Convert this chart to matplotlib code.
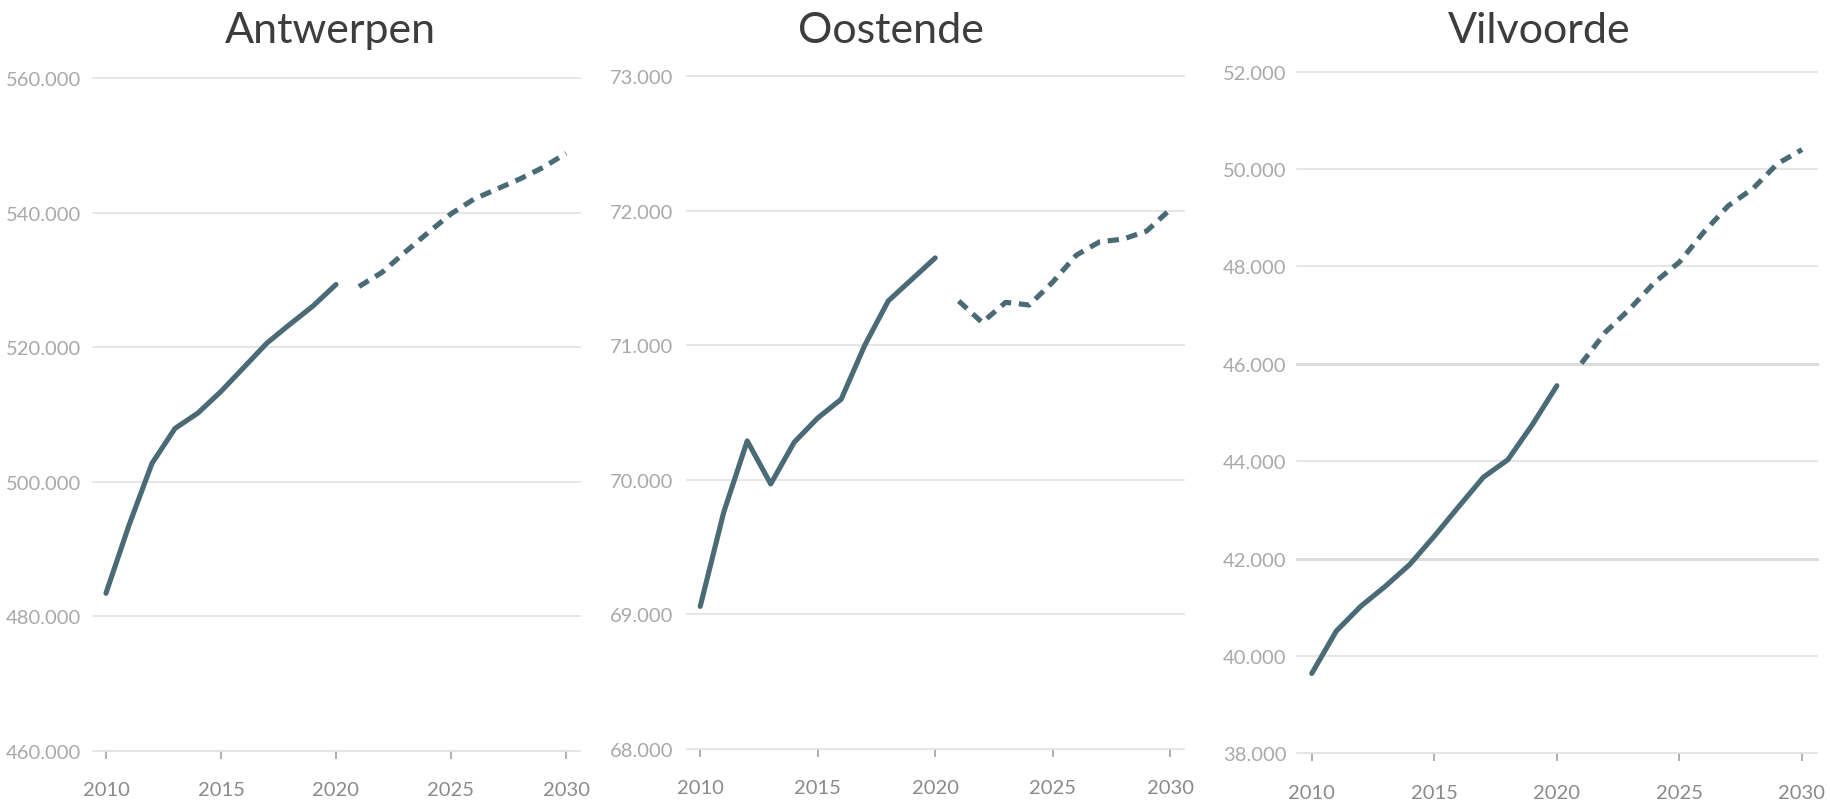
import numpy as np
import matplotlib
matplotlib.use("Agg")
import matplotlib.pyplot as plt
from matplotlib import font_manager
from matplotlib.ticker import FuncFormatter

# data: inwoners, gemeten (tot 2020) en prognose (vanaf 2021)
years_obs = list(range(2010, 2021))
years_prog = list(range(2021, 2031))

antwerpen_obs = [483400, 493500, 502700, 507900, 510200, 513400, 517000, 520600, 523400, 526100, 529300]
antwerpen_prog = [529000, 531100, 534100, 537000, 539800, 542000, 543500, 545000, 546700, 548800]

oostende_obs = [69060, 69760, 70290, 69970, 70280, 70460, 70600, 71000, 71330, 71490, 71650]
oostende_prog = [71330, 71170, 71320, 71300, 71470, 71670, 71770, 71790, 71850, 72010]

vilvoorde_obs = [39640, 40510, 41020, 41430, 41880, 42460, 43070, 43670, 44030, 44750, 45550]
vilvoorde_prog = [46010, 46660, 47140, 47680, 48090, 48710, 49250, 49600, 50110, 50400]

titles = ["Antwerpen", "Oostende", "Vilvoorde"]
yticks = [
    [460000, 480000, 500000, 520000, 540000, 560000],
    [68000, 69000, 70000, 71000, 72000, 73000],
    [38000, 40000, 42000, 44000, 46000, 48000, 50000, 52000],
]
xticks = [2010, 2015, 2020, 2025, 2030]

W, H = 1831, 804
names = {f.name for f in font_manager.fontManager.ttflist}
tick_font = "Lato" if "Lato" in names else "DejaVu Sans"
title_font = "Lato" if "Lato" in names else "DejaVu Sans"

line_col = "#4a6a76"
grid_col = "#e2e2e2"

# axes boxes in pixels: left, right, top, bottom
boxes = [
    (92.6, 580.5, 79.0, 751.7),
    (687.3, 1184.5, 77.3, 750.0),
    (1297.3, 1816.7, 72.7, 754.3),
]
xlims = [(2009.42, 2030.63), (2009.45, 2030.61), (2009.41, 2030.60)]
ypads = [8.4, 10.2, 7.6]
title_x = [330, 891, 1539]

fig = plt.figure(figsize=(W / 100, H / 100), dpi=100)

series = [
    (antwerpen_obs, antwerpen_prog),
    (oostende_obs, oostende_prog),
    (vilvoorde_obs, vilvoorde_prog),
]

fmt = FuncFormatter(lambda v, p: "{:,.0f}".format(v).replace(",", "."))

for i, (obs, prog) in enumerate(series):
    l, r, t, b = boxes[i]
    ax = fig.add_axes([l / W, 1 - b / H, (r - l) / W, (b - t) / H])
    ax.plot(years_obs, obs, color=line_col, lw=3.7, solid_capstyle="round")
    ax.plot(years_prog, prog, color=line_col, lw=3.7, dashes=(2.2, 1.5))
    ax.set_xlim(*xlims[i])
    ax.set_ylim(yticks[i][0], yticks[i][-1])
    ax.set_yticks(yticks[i])
    ax.set_xticks(xticks)
    ax.yaxis.set_major_formatter(fmt)
    for s in ax.spines.values():
        s.set_visible(False)
    ax.grid(axis="y", color=grid_col, lw=1.2)
    ax.set_axisbelow(True)
    for gl in ax.get_ygridlines():
        gl.set_clip_on(False)
    if i == 2:
        # two gridlines look heavier in the original
        for gl, v in zip(ax.get_ygridlines(), yticks[i]):
            if v in (42000, 46000):
                gl.set_linewidth(2.2)
                gl.set_color("#dcdcdc")
    ax.tick_params(axis="y", length=0, pad=ypads[i], labelsize=14.5, labelcolor="#a9a9a9")
    ax.tick_params(axis="x", length=5.8, width=1.1, color="#9a9a9a", pad=16,
                   labelsize=14.5, labelcolor="#8a8a8a")
    for lab in ax.get_xticklabels() + ax.get_yticklabels():
        lab.set_fontfamily(tick_font)
    fig.text(title_x[i] / W, 1 - 43 / H, titles[i], ha="center", va="baseline",
             fontsize=31, color="#3d3d3d", fontfamily=title_font)

fig.savefig("out.png", dpi=100, facecolor="white")
